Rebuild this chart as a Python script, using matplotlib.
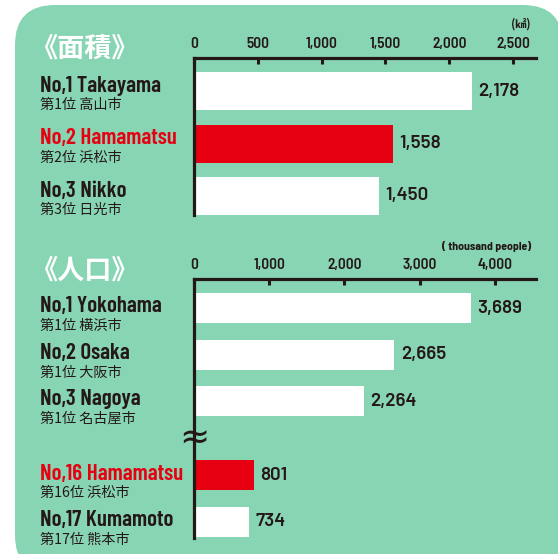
import matplotlib
matplotlib.use("Agg")
import matplotlib.pyplot as plt
from matplotlib.patches import FancyBboxPatch
from matplotlib.transforms import blended_transform_factory, ScaledTranslation

# ---------------- data ----------------
area_title = "《面積》"
area_unit = "(㎢)"
area_names = ["No,1 Takayama", "No,2 Hamamatsu", "No,3 Nikko"]
area_subs = ["第1位 高山市", "第2位 浜松市", "第3位 日光市"]
area_values = [2178, 1558, 1450]
area_highlight = [False, True, False]
area_ticks = [0, 500, 1000, 1500, 2000, 2500]

pop_title = "《人口》"
pop_unit = "( thousand people)"
pop_names = ["No,1 Yokohama", "No,2 Osaka", "No,3 Nagoya", "No,16 Hamamatsu", "No,17 Kumamoto"]
pop_subs = ["第1位 横浜市", "第1位 大阪市", "第1位 名古屋市", "第16位 浜松市", "第17位 熊本市"]
pop_values = [3689, 2665, 2264, 801, 734]
pop_highlight = [False, False, False, True, False]
pop_ticks = [0, 1000, 2000, 3000, 4000]

# ---------------- style ----------------
GREEN = "#88D5B3"
RED = "#E60012"
DARK = "#231815"
WHITE = "#FFFFFF"
NAMEF = ["Barlow Condensed", "DejaVu Sans"]
VALF = ["Barlow", "Barlow Semi Condensed", "DejaVu Sans"]
TICKF = ["Barlow Semi Condensed", "Barlow Condensed", "DejaVu Sans"]
LATW = 600
JP = ["Noto Sans CJK JP", "DejaVu Sans"]

W, H = 558, 554
fig = plt.figure(figsize=(W / 100, H / 100), dpi=100, facecolor="white")


def fx(x):
    return x / W


def fy(y):
    return 1 - y / H


# green rounded panel
panel = FancyBboxPatch((fx(15), fy(575)), fx(563) - fx(15), fy(5) - fy(575),
                       boxstyle="round,pad=0,rounding_size=0.072",
                       transform=fig.transFigure, facecolor=GREEN,
                       edgecolor="none", zorder=-10)
fig.patches.append(panel)


def section(top, bottom, positions, ylim, bar_h, names, subs, values, hl,
            ticks, xmax, title, title_y, unit, unit_y, name_dy, sub_dy):
    ax = fig.add_axes([fx(194), fy(bottom), fx(536) - fx(194), fy(top) - fy(bottom)])
    ax.set_zorder(2)
    ax.set_facecolor("none")
    colors = [RED if h else WHITE for h in hl]
    ax.barh(positions, values, height=bar_h, color=colors, edgecolor="none", zorder=2)
    ax.set_xlim(0, xmax)
    ax.set_ylim(*ylim)
    for s in ["right", "bottom"]:
        ax.spines[s].set_visible(False)
    for s in ["top", "left"]:
        ax.spines[s].set_color(DARK)
        ax.spines[s].set_linewidth(2.3)
        ax.spines[s].set_zorder(3)
    ax.set_yticks([])
    ax.xaxis.tick_top()
    ax.set_xticks(ticks)
    ax.set_xticklabels([f"{t:,}" for t in ticks], family=TICKF, weight=LATW,
                       fontsize=11, color=DARK)
    ax.tick_params(axis="x", direction="in", length=4.5, width=2.2, color=DARK,
                   pad=5, top=True, bottom=False)
    # value labels
    for p, v in zip(positions, values):
        ax.annotate(f"{v:,}", (v, p), xytext=(4.5, 0), textcoords="offset points",
                    ha="left", va="center", family=VALF, weight=LATW,
                    fontsize=13.5, color=DARK)
    # row labels
    bt = blended_transform_factory(fig.transFigure, ax.transData)
    for p, n, s, h in zip(positions, names, subs, hl):
        ax.text(fx(40), p, n, transform=bt + ScaledTranslation(0, name_dy / 72, fig.dpi_scale_trans),
                ha="left", va="center", family=NAMEF, weight=LATW, fontsize=16.5,
                color=RED if h else DARK, clip_on=False)
        ax.text(fx(40), p, s, transform=bt + ScaledTranslation(0, sub_dy / 72, fig.dpi_scale_trans),
                ha="left", va="center", family=JP, fontsize=10.2, color=DARK, clip_on=False)
    fig.text(fx(31), fy(title_y), title, ha="left", va="center", family=JP,
             weight="bold", fontsize=19.5, color=WHITE)
    fig.text(fx(531), fy(unit_y), unit, ha="right", va="center",
             family=JP if "㎢" in unit else TICKF, weight="bold",
             fontsize=8 if "㎢" in unit else 8.5, color=DARK)
    return ax


# area section
ax1 = section(58, 215, [0, 1, 2], (2.362, -0.629), 0.724,
              area_names, area_subs, area_values, area_highlight,
              area_ticks, 2680, area_title, 49, area_unit, 24, 3.8, -10.2)

# population section
pop_pos = [0, 1, 2, 3.6, 4.6]
ax2 = section(279, 538, pop_pos, (4.946, -0.624), 0.645,
              pop_names, pop_subs, pop_values, pop_highlight,
              pop_ticks, 4548, pop_title, 271, pop_unit, 247, 1.2, -13)
# break mark on the axis
ax2.text(0, 2.8, "≈", ha="center", va="center", fontsize=26, color=DARK,
         family=["DejaVu Sans"], zorder=5, clip_on=False)

fig.savefig("out.png", dpi=100, facecolor="white")
